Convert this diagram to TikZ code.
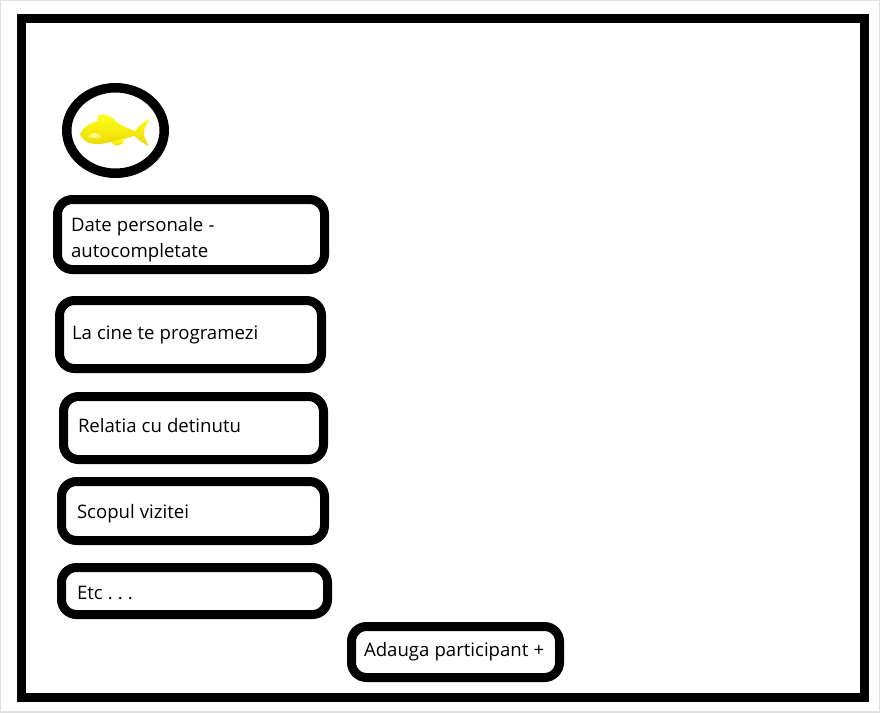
\documentclass[tikz,border=0pt]{standalone}
\usepackage{fontspec}
\setmainfont{Open Sans}
\usetikzlibrary{
	shapes.geometric,
	positioning
}
\definecolor{fishshade}{RGB}{236,216,10}

\begin{document}
\begin{tikzpicture}[
    x=1pt, y=-1pt,
    fieldbox/.style={rectangle, draw=black, line width=9pt, rounded corners=15pt, fill=white, inner ysep=0pt, align=left, font=\fontsize{18.6}{26.5}\selectfont, text=black, execute at begin node={\frenchspacing\spaceskip=5.1pt\relax}},
    fish/.style={top color=yellow!92!white, bottom color=fishshade, draw=none}
]

% Page
\useasboundingbox (0,0) rectangle (880,712);
\draw[gray!25, line width=2pt] (0,0) rectangle (880,712);

% Outer frame
\draw[line width=9pt, miter limit=10] (21,18.5) rectangle (864,697);

% Logo
\node[ellipse, draw=black, line width=9.5pt, minimum width=97.5pt, minimum height=85.5pt, inner sep=0pt] (logo) at (115.5,130.5) {};

% Fish
\begin{scope}[shift={(75,105)}, x=0.3333pt, y=-0.3333pt]
\path[fish] (15,88) .. controls (20,72) and (40,55) .. (68,48)
    .. controls (66,40) and (68,32) .. (76,28)
    .. controls (92,28) and (112,34) .. (122,48)
    .. controls (135,60) and (160,70) .. (180,78)
    .. controls (192,62) and (208,48) .. (226,42)
    .. controls (212,60) and (203,78) .. (207,90)
    .. controls (210,102) and (216,112) .. (222,123)
    .. controls (208,118) and (190,105) .. (178,92)
    .. controls (160,98) and (130,108) .. (100,113)
    .. controls (70,120) and (28,122) .. (15,88) -- cycle;
\path[fish] (110,112) .. controls (122,106) and (135,103) .. (146,104)
    .. controls (147,112) and (146,116) .. (140,117)
    .. controls (130,122) and (116,124) .. (110,112) -- cycle;
\fill[yellow!50!white] (42,95) .. controls (48,86) and (58,80) .. (66,85)
    .. controls (72,88) and (76,92) .. (78,96)
    .. controls (66,102) and (52,100) .. (42,95) -- cycle;
\end{scope}

% Form fields
\node[fieldbox, below=17pt of logo, xshift=75.5pt, minimum width=267pt, minimum height=70pt, text width=240pt, text height=24pt] (personal) {Date personale -\\autocompletate};
\node[fieldbox, below=22pt of personal, xshift=-0.5pt, minimum width=262pt, minimum height=68pt, text width=237pt, text depth=4.5pt] (visited) {La cine te programezi};
\node[fieldbox, below=19pt of visited, xshift=3pt, minimum width=260pt, minimum height=63pt, text width=231pt, text depth=5pt] (relation) {Relatia cu detinutu};
\node[fieldbox, below=13pt of relation, xshift=-0.5pt, minimum width=263pt, minimum height=59pt, text width=232pt, text height=20pt] (purpose) {Scopul vizitei};
\node[fieldbox, below=18pt of purpose, xshift=1.5pt, minimum width=266pt, minimum height=47pt, text width=235pt, text height=18pt] (etc) {Etc . . .};

% Add button
\node[fieldbox, below=3pt of etc, xshift=261pt, minimum width=208pt, minimum height=51pt, text width=183pt] (add) {Adauga participant +};

\end{tikzpicture}
\end{document}
